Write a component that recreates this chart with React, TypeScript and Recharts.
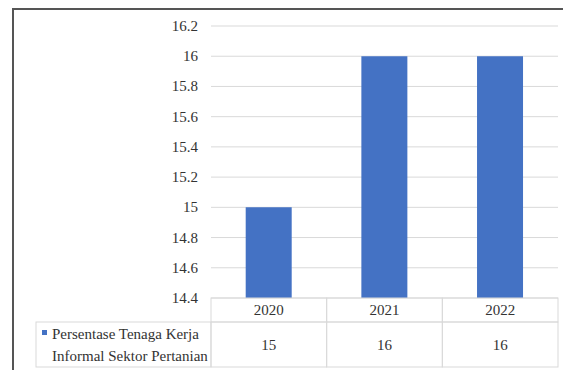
import React from 'react';
import { BarChart, Bar, XAxis, YAxis, CartesianGrid } from 'recharts';

const years = ['2020', '2021', '2022'];
const values = [15, 16, 16];
const yTicks = [14.4, 14.6, 14.8, 15, 15.2, 15.4, 15.6, 15.8, 16, 16.2];
const seriesName = 'Persentase Tenaga Kerja Informal Sektor Pertanian';
const legendLines = ['Persentase Tenaga Kerja', 'Informal Sektor Pertanian'];

const data = years.map((year, i) => ({ year, value: values[i] }));

const W = 563;
const H = 370;
const MARGIN = { top: 26, right: 5, bottom: 0, left: 0 };
const Y_AXIS_W = 211;
const X_AXIS_H = 72;
const PLOT_W = W - MARGIN.left - MARGIN.right - Y_AXIS_W;
const BAND = PLOT_W / years.length;
const ROW1 = 24;
const ROW2 = 45;
const LEGEND_W = 175;
const FONT = 'Liberation Serif, Times New Roman, serif';
const TEXT = '#333333';
const LINE = '#d9d9d9';
const BAR = '#4472C4';
const textStyle = { fontFamily: FONT, fontSize: 15 };

function TableTick(props: any) {
  const { x, y, index, payload } = props;
  const left = x - BAND / 2;
  const val = values[index];
  return (
    <g>
      <rect x={left} y={y} width={BAND} height={ROW1} fill="none" stroke={LINE} strokeWidth={1} />
      <rect x={left} y={y + ROW1} width={BAND} height={ROW2} fill="none" stroke={LINE} strokeWidth={1} />
      <text x={x} y={y + ROW1 / 2} textAnchor="middle" dominantBaseline="central" style={textStyle} fill={TEXT}>
        {payload.value}
      </text>
      <text x={x} y={y + ROW1 + ROW2 / 2} textAnchor="middle" dominantBaseline="central" style={textStyle} fill={TEXT}>
        {String(val)}
      </text>
      {index === 0 && (
        <g>
          <rect x={left - LEGEND_W} y={y + ROW1} width={LEGEND_W} height={ROW2} fill="none" stroke={LINE} strokeWidth={1} />
          <rect x={left - LEGEND_W + 6} y={y + ROW1 + 8} width={5} height={5} fill={BAR} />
          <text x={left - LEGEND_W + 16} y={y + ROW1 + 12} dominantBaseline="central" style={textStyle} fill={TEXT}>
            {legendLines[0]}
          </text>
          <text x={left - LEGEND_W + 16} y={y + ROW1 + 34} dominantBaseline="central" style={textStyle} fill={TEXT}>
            {legendLines[1]}
          </text>
        </g>
      )}
    </g>
  );
}

function YTick(props: any) {
  const { x, y, payload } = props;
  return (
    <text x={x} y={y} textAnchor="end" dominantBaseline="central" style={textStyle} fill={TEXT}>
      {String(payload.value)}
    </text>
  );
}

export default function App() {
  return (
    <div style={{ position: 'absolute', left: 0, top: 0, width: W, height: H, background: '#fff' }}>
      <BarChart width={W} height={H} data={data} margin={MARGIN} barCategoryGap="30%">
        <CartesianGrid vertical={false} stroke={LINE} strokeWidth={1} />
        <XAxis
          dataKey="year"
          height={X_AXIS_H}
          axisLine={false}
          tickLine={false}
          tickSize={0}
          tickMargin={0}
          interval={0}
          tick={<TableTick />}
        />
        <YAxis
          width={Y_AXIS_W}
          domain={[14.4, 16.2]}
          ticks={yTicks}
          allowDataOverflow
          interval={0}
          axisLine={false}
          tickLine={false}
          tickSize={0}
          tickMargin={13}
          tick={<YTick />}
        />
        <Bar dataKey="value" name={seriesName} fill={BAR} isAnimationActive={false} />
      </BarChart>
      <div
        style={{
          position: 'absolute',
          left: 12,
          top: 8,
          width: W - 14,
          height: H - 8,
          borderTop: '2px solid #555',
          borderLeft: '2px solid #555',
          pointerEvents: 'none',
        }}
      />
    </div>
  );
}
